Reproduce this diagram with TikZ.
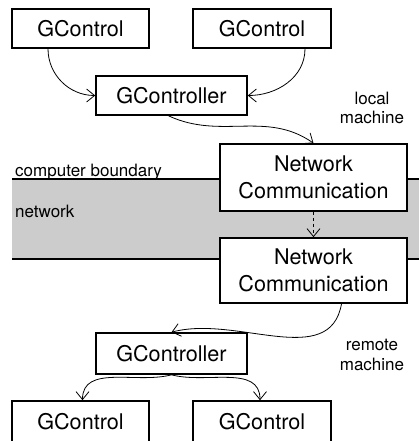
\documentclass[tikz,border=0pt]{standalone}
\usepackage{fontspec}
\setmainfont{TeX Gyre Heros}
\usetikzlibrary{arrows.meta}
\tikzset{
  box/.style={draw, line width=1.6pt, fill=white, inner sep=0pt, align=center,
    font=\fontsize{21.6}{27}\selectfont},
  conn/.style={line width=0.8pt, -{Straight Barb[length=8pt,width=13pt,line width=0.8pt]}},
  small/.style={font=\fontsize{17}{19.5}\selectfont, inner sep=0pt, align=center},
  bline/.style={line width=1.2pt}
}
\begin{document}
\begin{tikzpicture}[x=1pt,y=-1pt]
\useasboundingbox (0,0) rectangle (419,441);
% network band
\fill[gray!40] (12,179) rectangle (419,259);
\draw[bline] (12,179) -- (419,179);
\draw[bline] (12,259) -- (419,259);
\node[small, anchor=base west] (cb) at (15,176) {computer boundary};
\node[small, anchor=base west] (nw) at (15,217) {network};
% boxes
\node[box, minimum width=137pt, minimum height=39pt] (tl) at (80.5,28.5) {GControl};
\node[box, minimum width=138pt, minimum height=39pt] (tr) at (262,28.5) {GControl};
\node[box, minimum width=151pt, minimum height=39pt] (gca) at (171.5,95.5) {GController};
\node[box, minimum width=187pt, minimum height=67pt] (nca) at (313.5,177.5) {Network\\Communication};
\node[box, minimum width=187pt, minimum height=65pt] (ncb) at (313.5,270.5) {Network\\Communication};
\node[box, minimum width=151pt, minimum height=41pt] (gcb) at (171.5,353.5) {GController};
\node[box, minimum width=137pt, minimum height=41pt] (bl) at (80.5,421.5) {GControl};
\node[box, minimum width=138pt, minimum height=41pt] (br) at (262,421.5) {GControl};
% labels
\node[small] (lm) at (372,108) {local\\machine};
\node[small] (rm) at (372,355) {remote\\machine};
% connectors
\draw[conn] ([xshift=-32.5pt]tl.south) to[out=-90,in=180] (gca.west);
\draw[conn] ([xshift=43pt]tr.south) to[out=-90,in=0] (gca.east);
\draw[conn] ([xshift=-3pt]gca.south) to[out=-25,in=145] (nca.north);
\draw[conn, dashed] (nca.south) -- (ncb.north);
\draw[conn] ([xshift=28pt]ncb.south) to[out=-100,in=15] (gcb.north);
\draw[conn] (gcb.south) to[out=-165,in=90] ([xshift=2pt]bl.north);
\draw[conn] (gcb.south) to[out=-15,in=90] ([xshift=-2pt]br.north);
\end{tikzpicture}
\end{document}
